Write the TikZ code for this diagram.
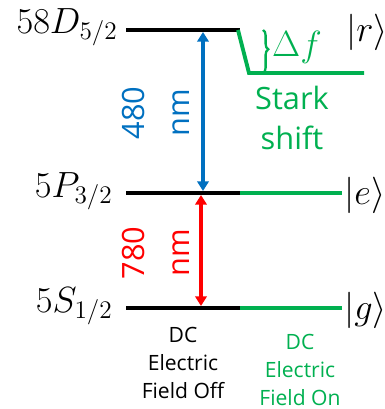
\documentclass[tikz,border=0pt]{standalone}
\usepackage{amsmath}
\usepackage{fontspec}
\setsansfont{Open Sans}
\usepackage{tikz}
\usetikzlibrary{arrows.meta,positioning,calc,decorations.pathreplacing}
\usepackage{xcolor}
\definecolor{onGreen}{RGB}{0,176,80}
\definecolor{lineBlue}{RGB}{0,112,192}
\definecolor{lineRed}{RGB}{255,0,0}

\begin{document}
\begin{tikzpicture}[x=0.02cm,y=-0.02cm,>=Stealth,
    level/.style={line width=2.2pt},
    levelOn/.style={level,onGreen},
    trans/.style={line width=2pt,{Triangle[width=6.5pt,length=5.5pt]}-{Triangle[width=6.5pt,length=5.5pt]}},
    big/.style={font=\fontsize{20}{24}\selectfont},
    wave/.style={rotate=90,align=center,font=\sffamily\fontsize{17.5}{25.5}\selectfont},
    caption/.style={align=center,font=\sffamily\fontsize{12}{15.9}\selectfont}]
    \useasboundingbox (0,0) rectangle (385,409);
    % field off
    \draw[level] (126,30) coordinate (rOff) -- (240,30) coordinate (rEnd);
    \draw[level] (126,193) coordinate (eOff) -- (240,193) coordinate (eEnd);
    \draw[level] (126,308) coordinate (gOff) -- (240,308) coordinate (gEnd);
    \node[big,anchor=base east,inner sep=0] (rName) at (118,33) {$58D_{5/2}$};
    \node[big,anchor=base east,inner sep=0] (eName) at (113,197) {$5P_{3/2}$};
    \node[big,anchor=base east,inner sep=0] (gName) at (113,312) {$5S_{1/2}$};
    % field on
    \draw[levelOn] (238,30) -- (249,73) coordinate (rLow) -- (364,73) coordinate (rOn);
    \draw[levelOn] (eEnd) -- (342,193) coordinate (eOn);
    \draw[levelOn] (gEnd) -- (342,308) coordinate (gOn);
    \node[big,anchor=base west,inner sep=0] (rKet) at (346,41) {$|r\rangle$};
    \node[big,anchor=base west,inner sep=0] (eKet) at (344,204) {$|e\rangle$};
    \node[big,anchor=base west,inner sep=0] (gKet) at (344,319) {$|g\rangle$};
    % stark shift
    \coordinate (dfTop) at (263,30);
    \coordinate (dfBot) at (263,73);
    \draw[onGreen,line width=1.3pt,decorate,decoration={brace,amplitude=3pt,aspect=0.45}] (dfTop) -- (dfBot);
    \node[big,text=onGreen] (df) at (297,47) {$\Delta f$};
    \node[wave,rotate=-90,text=onGreen,font=\sffamily\fontsize{17.5}{22.7}\selectfont] (stark) at (292,118) {Stark\\shift};
    % transitions
    \coordinate (bTop) at (203,32);
    \coordinate (bBot) at (203,191);
    \draw[trans,lineBlue] (bTop) -- (bBot);
    \node[wave,text=lineBlue] (nm480) at (156,113) {480\\nm};
    \coordinate (rTop) at (201,195);
    \coordinate (rBot) at (201,306);
    \draw[trans,lineRed] (rTop) -- (rBot);
    \node[wave,text=lineRed] (nm780) at (156,253) {780\\nm};
    % captions
    \node[caption] (offText) at (183,363) {DC\\Electric\\Field Off};
    \node[caption,text=onGreen] (onText) at (300,370) {DC\\Electric\\Field On};
  \end{tikzpicture}
\end{document}
